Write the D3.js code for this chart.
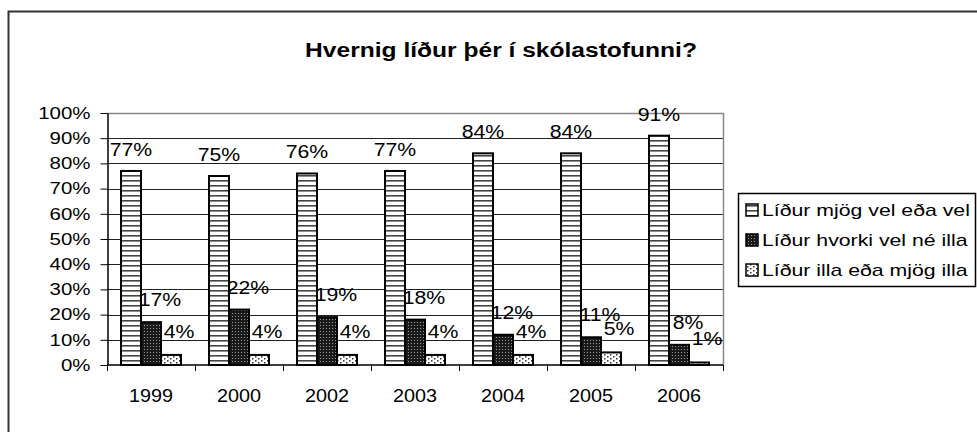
<!DOCTYPE html>
<html>
<head>
<meta charset="utf-8">
<script src="https://cdn.jsdelivr.net/npm/d3@7"></script>
<style>
  body { margin: 0; background: #fff; }
  svg { display: block; font-family: "Liberation Sans", Arial, sans-serif; }
</style>
</head>
<body>
<div id="chart"></div>
<script>
// gögn
const years = ["1999", "2000", "2002", "2003", "2004", "2005", "2006"];
const seriesNames = ["Líður mjög vel eða vel", "Líður hvorki vel né illa", "Líður illa eða mjög illa"];
const vel = [77, 75, 76, 77, 84, 84, 91];
const hvorki = [17, 22, 19, 18, 12, 11, 8];
const illa = [4, 4, 4, 4, 4, 5, 1];
const yTicks = [0, 10, 20, 30, 40, 50, 60, 70, 80, 90, 100];

const width = 977, height = 432;
const svg = d3.select("#chart").append("svg")
    .attr("width", width)
    .attr("height", height);

// myndin er teygð lárétt, svo letrið er breikkað
function stretch(sel, k) {
    sel.each(function () {
        const w = this.getComputedTextLength();
        d3.select(this).attr("textLength", w * k).attr("lengthAdjust", "spacingAndGlyphs");
    });
}

// mynstur fyrir súlurnar
const defs = svg.append("defs");
const p1 = defs.append("pattern").attr("id", "pat0")
    .attr("patternUnits", "userSpaceOnUse").attr("width", 4).attr("height", 5);
p1.append("rect").attr("width", 4).attr("height", 5).attr("fill", "#fff");
p1.append("rect").attr("y", 0).attr("width", 4).attr("height", 1.6).attr("fill", "#444");

const p2 = defs.append("pattern").attr("id", "pat1")
    .attr("patternUnits", "userSpaceOnUse").attr("width", 3).attr("height", 3);
p2.append("rect").attr("width", 3).attr("height", 3).attr("fill", "#1a1a1a");
p2.append("rect").attr("x", 1).attr("y", 1).attr("width", 1).attr("height", 1).attr("fill", "#999");

const p3 = defs.append("pattern").attr("id", "pat2")
    .attr("patternUnits", "userSpaceOnUse").attr("width", 6).attr("height", 4);
p3.append("rect").attr("width", 6).attr("height", 4).attr("fill", "#fff");
p3.append("rect").attr("x", 0).attr("y", 0).attr("width", 1.5).attr("height", 1.5).attr("fill", "#333");
p3.append("rect").attr("x", 3).attr("y", 2).attr("width", 1.5).attr("height", 1.5).attr("fill", "#333");

// ytri rammi
svg.append("rect")
    .attr("x", 8.5).attr("y", 11.5)
    .attr("width", 1000).attr("height", 500)
    .attr("fill", "none").attr("stroke", "#333").attr("stroke-width", 2);

// titill
svg.append("text")
    .attr("x", 501).attr("y", 57)
    .attr("text-anchor", "middle")
    .attr("font-size", 19.5).attr("font-weight", "bold")
    .text("Hvernig líður þér í skólastofunni?")
    .call(stretch, 1.26);

const x = d3.scaleBand().domain(years).range([107, 723]);
const x1 = d3.scaleBand().domain([0, 1, 2]).range([14, 74]);
const y = d3.scaleLinear().domain([0, 100]).range([365, 113]);

// hnitalínur
svg.append("g").selectAll("line")
    .data(yTicks.filter(t => t > 0 && t < 100))
    .join("line")
    .attr("x1", 107).attr("x2", 723)
    .attr("y1", d => Math.round(y(d)) + 0.5).attr("y2", d => Math.round(y(d)) + 0.5)
    .attr("stroke", "#222");

// rammi um teiknisvæði (grár efst og hægra megin)
svg.append("path")
    .attr("d", `M107,${y(100) + 0.5}H${723.5}V${y(0)}`)
    .attr("fill", "none").attr("stroke", "#888").attr("stroke-width", 1.5);

// y-ás
const yAxis = svg.append("g")
    .attr("transform", "translate(107.5,0)")
    .call(d3.axisLeft(y).tickValues(yTicks).tickSize(7).tickSizeOuter(0).tickFormat(d => d + "%"));
yAxis.select(".domain").attr("stroke", "#000").attr("stroke-width", 1.5);
yAxis.selectAll(".tick line").attr("stroke", "#000");
yAxis.selectAll(".tick text")
    .attr("font-size", 16.5).attr("fill", "#000")
    .attr("font-family", "Liberation Sans, Arial, sans-serif")
    .attr("x", -17)
    .call(stretch, 1.24);

// súlur
const data = years.map((yr, i) => ({ year: yr, vals: [vel[i], hvorki[i], illa[i]] }));
const labelDx = [0, 9, 8];
const labelGap = [15, 16, 17];

const groups = svg.append("g").selectAll("g")
    .data(data).join("g")
    .attr("transform", d => `translate(${x(d.year)},0)`);

groups.selectAll("rect")
    .data(d => d.vals.map((v, k) => ({ k, v })))
    .join("rect")
    .attr("x", d => x1(d.k))
    .attr("y", d => y(d.v))
    .attr("width", x1.bandwidth())
    .attr("height", d => y(0) - y(d.v))
    .attr("fill", d => `url(#pat${d.k})`)
    .attr("stroke", "#000").attr("stroke-width", 2);

groups.selectAll("text")
    .data(d => d.vals.map((v, k) => ({ k, v })))
    .join("text")
    .attr("x", d => x1(d.k) + x1.bandwidth() / 2 + labelDx[d.k])
    .attr("y", d => y(d.v) - labelGap[d.k])
    .attr("text-anchor", "middle")
    .attr("font-size", 18)
    .text(d => d.v + "%")
    .call(stretch, 1.18);

// x-ás
svg.append("line")
    .attr("x1", 107).attr("x2", 723)
    .attr("y1", y(0)).attr("y2", y(0))
    .attr("stroke", "#000").attr("stroke-width", 1.5);
svg.append("g").selectAll("line")
    .data(d3.range(years.length + 1))
    .join("line")
    .attr("x1", i => 107.5 + i * x.bandwidth()).attr("x2", i => 107.5 + i * x.bandwidth())
    .attr("y1", y(0)).attr("y2", y(0) + 6)
    .attr("stroke", "#000");
svg.append("g").selectAll("text")
    .data(years).join("text")
    .attr("x", d => x(d) + x.bandwidth() / 2)
    .attr("y", 402)
    .attr("text-anchor", "middle")
    .attr("font-size", 18)
    .text(d => d)
    .call(stretch, 1.1);

// skýringar
const legend = svg.append("g");
legend.append("rect")
    .attr("x", 738.5).attr("y", 193.5)
    .attr("width", 237).attr("height", 93)
    .attr("fill", "#fff").attr("stroke", "#000").attr("stroke-width", 1.5);
seriesNames.forEach((name, k) => {
    const cy = 210 + k * 30;
    legend.append("rect")
        .attr("x", 746).attr("y", cy - 6)
        .attr("width", 12).attr("height", 12)
        .attr("fill", `url(#pat${k})`)
        .attr("stroke", "#000").attr("stroke-width", 1.5);
    legend.append("text")
        .attr("x", 762).attr("y", cy + 6)
        .attr("font-size", 17)
        .text(name)
        .call(stretch, 1.25);
});
</script>
</body>
</html>
